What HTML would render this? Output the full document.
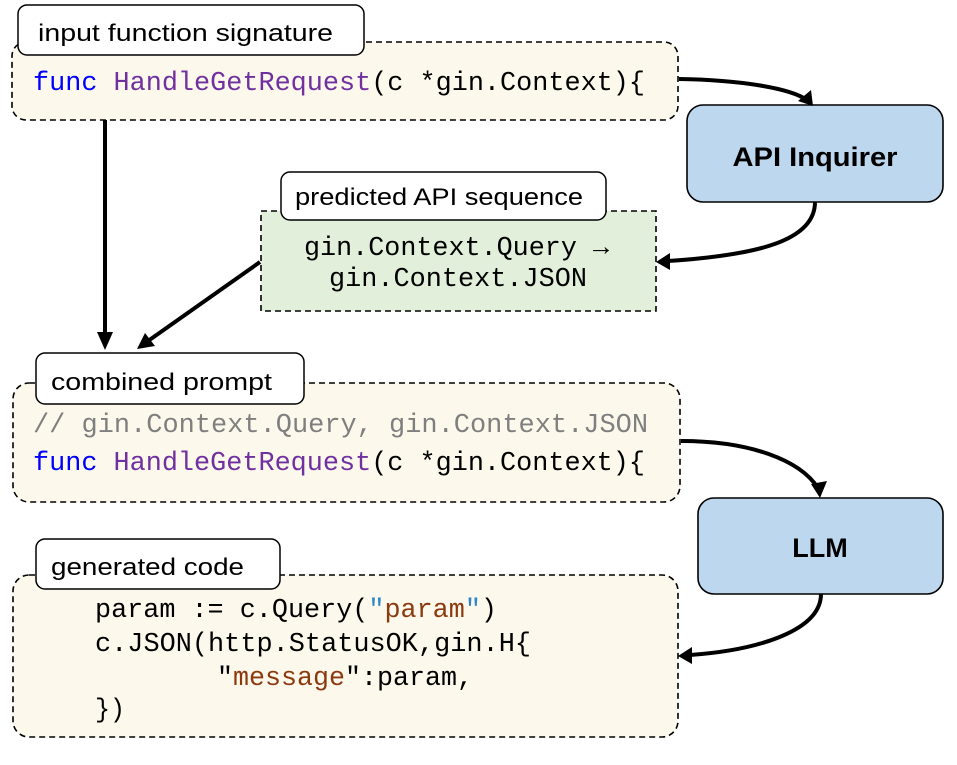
<!DOCTYPE html>
<html><head><meta charset="utf-8"><style>
html,body{margin:0;padding:0;background:#fff;}
svg{display:block;}
.lbl{font-family:"Liberation Sans","Noto Sans CJK SC",sans-serif;font-size:24px;fill:#000;font-weight:500;}
.code{font-family:"Liberation Mono","DejaVu Sans Mono",monospace;font-size:27px;fill:#000;}
</style></head><body>
<svg width="957" height="765" viewBox="0 0 957 765" xmlns="http://www.w3.org/2000/svg">
<!-- Box 1 -->
<rect x="12" y="42" width="666" height="78" rx="14" fill="#fcf9ec" stroke="#000" stroke-width="1.6" stroke-dasharray="6,4"/>
<rect x="18" y="5" width="346" height="50" rx="9" fill="#fff" stroke="#000" stroke-width="1.5"/>
<text class="lbl" x="38" y="41" textLength="295" lengthAdjust="spacingAndGlyphs">input function signature</text>
<text class="code" x="33" y="90" textLength="612" lengthAdjust="spacingAndGlyphs"><tspan fill="#0000ff">func</tspan> <tspan fill="#7030a0">HandleGetRequest</tspan>(c *gin.Context){</text>

<!-- API Inquirer -->
<rect x="687" y="105" width="256" height="97" rx="16" fill="#bdd7ee" stroke="#000" stroke-width="1.6"/>
<text x="815" y="166" text-anchor="middle" font-family="Liberation Sans,sans-serif" font-weight="600" font-size="27" textLength="165" lengthAdjust="spacingAndGlyphs">API Inquirer</text>

<!-- Green box -->
<rect x="261" y="211" width="395" height="100" fill="#e2efda" stroke="#000" stroke-width="1.6" stroke-dasharray="6,4"/>
<rect x="281" y="172" width="325" height="48" rx="9" fill="#fff" stroke="#000" stroke-width="1.5"/>
<text class="lbl" x="295" y="205" textLength="288" lengthAdjust="spacingAndGlyphs">predicted API sequence</text>
<text class="code" x="304" y="255" textLength="305" lengthAdjust="spacingAndGlyphs">gin.Context.Query →</text>
<text class="code" x="329" y="286" textLength="258" lengthAdjust="spacingAndGlyphs">gin.Context.JSON</text>

<!-- Box 3 -->
<rect x="13" y="383" width="667" height="119" rx="16" fill="#fcf9ec" stroke="#000" stroke-width="1.6" stroke-dasharray="6,4"/>
<rect x="36" y="353" width="268" height="51" rx="9" fill="#fff" stroke="#000" stroke-width="1.5"/>
<text class="lbl" x="51" y="390" textLength="221" lengthAdjust="spacingAndGlyphs">combined prompt</text>
<text class="code" x="33" y="432" textLength="615" lengthAdjust="spacingAndGlyphs" style="fill:#7f7f7f">// gin.Context.Query, gin.Context.JSON</text>
<text class="code" x="33" y="470" textLength="612" lengthAdjust="spacingAndGlyphs"><tspan fill="#0000ff">func</tspan> <tspan fill="#7030a0">HandleGetRequest</tspan>(c *gin.Context){</text>

<!-- LLM -->
<rect x="698" y="498" width="245" height="96" rx="16" fill="#bdd7ee" stroke="#000" stroke-width="1.6"/>
<text x="820" y="557" text-anchor="middle" font-family="Liberation Sans,sans-serif" font-weight="600" font-size="27">LLM</text>

<!-- Box 4 -->
<rect x="13" y="575" width="665" height="162" rx="16" fill="#fcf9ec" stroke="#000" stroke-width="1.6" stroke-dasharray="6,4"/>
<rect x="36" y="539" width="244" height="50" rx="9" fill="#fff" stroke="#000" stroke-width="1.5"/>
<text class="lbl" x="51" y="575" textLength="193" lengthAdjust="spacingAndGlyphs">generated code</text>
<text class="code" x="95" y="617" textLength="402" lengthAdjust="spacingAndGlyphs">param := c.Query(<tspan fill="#2e86c8">"</tspan><tspan fill="#8b3a0f">param</tspan><tspan fill="#2e86c8">"</tspan>)</text>
<text class="code" x="95" y="651" textLength="436" lengthAdjust="spacingAndGlyphs">c.JSON(http.StatusOK,gin.H{</text>
<text class="code" x="217" y="685" textLength="256" lengthAdjust="spacingAndGlyphs">"<tspan fill="#8b3a0f">message</tspan>":param,</text>
<text class="code" x="95" y="717" textLength="30" lengthAdjust="spacingAndGlyphs">})</text>

<!-- Arrows -->
<g fill="none" stroke="#000" stroke-width="4">
<path d="M679 79 C740 80 790 88 807 100"/>
<path d="M815 202 C815 240 760 255 668 261"/>
<line x1="105" y1="120" x2="105" y2="336"/>
<line x1="260" y1="262" x2="148" y2="341"/>
<path d="M681 441 C750 441 800 460 818 488"/>
<path d="M821 594 C821 630 760 650 690 655"/>
</g>
<g fill="#000">
<polygon points="813,106 798,101 811,90"/>
<polygon points="656,262 670,253 670,270"/>
<polygon points="105,350 97,332 113,332"/>
<polygon points="137,349 145,333 155,346"/>
<polygon points="820,498 811,484 827,481"/>
<polygon points="678,656 692,647 692,664"/>
</g>
</svg>
</body></html>
